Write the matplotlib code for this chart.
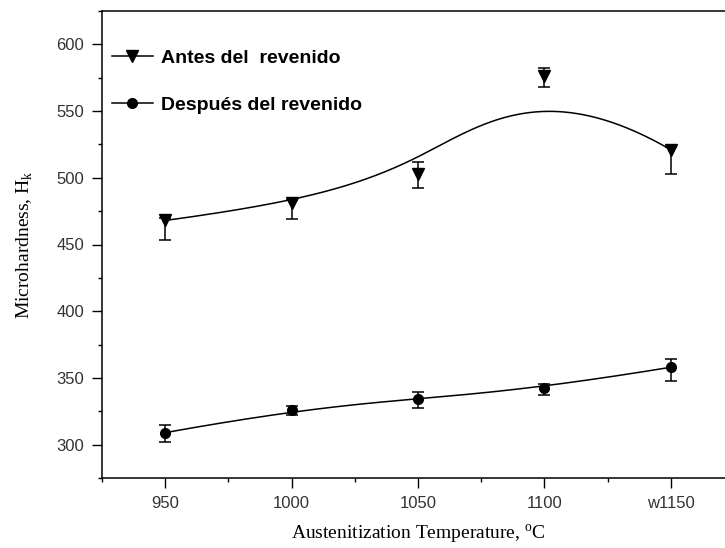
import numpy as np
import matplotlib
matplotlib.use("Agg")
import matplotlib.pyplot as plt
from matplotlib.lines import Line2D

# temperaturas de austenizacion y microdureza
temps = [950, 1000, 1050, 1100, 1150]
tick_labels = ["950", "1000", "1050", "1100", "w1150"]

antes = [468, 481, 503, 576, 521]
antes_err_low = [15, 12, 11, 8, 18]
antes_err_up = [2, 2, 9, 6, 2]

despues = [309, 326, 334.5, 342.5, 358]
despues_err_low = [7, 4, 7, 5, 10.5]
despues_err_up = [6, 3, 5, 3, 6.5]


# curva B-spline (como la de Origin) con los puntos como control
def bspline(px, py, degree=3, n=300):
    pts = np.column_stack([px, py]).astype(float)
    m = len(pts)
    n_inner = m - degree - 1
    knots = np.concatenate([np.zeros(degree + 1),
                            np.arange(1, n_inner + 1) / (n_inner + 1),
                            np.ones(degree + 1)])
    t = np.linspace(0, 1 - 1e-9, n)

    def basis(i, k, t):
        if k == 0:
            return ((knots[i] <= t) & (t < knots[i + 1])).astype(float)
        a = 0.0
        b = 0.0
        if knots[i + k] != knots[i]:
            a = (t - knots[i]) / (knots[i + k] - knots[i]) * basis(i, k - 1, t)
        if knots[i + k + 1] != knots[i + 1]:
            b = (knots[i + k + 1] - t) / (knots[i + k + 1] - knots[i + 1]) * basis(i + 1, k - 1, t)
        return a + b

    curve = sum(basis(i, degree, t)[:, None] * pts[i] for i in range(m))
    return curve[:, 0], curve[:, 1]


plt.rcParams['mathtext.fontset'] = 'custom'
plt.rcParams['mathtext.rm'] = 'Liberation Serif'

fig = plt.figure(figsize=(7.25, 5.48), dpi=100)
ax = fig.add_axes([102 / 725, 1 - 478 / 548, (734 - 102) / 725, (478 - 11) / 548])

for vals, lo, up, mk, ms in [(antes, antes_err_low, antes_err_up, 'v', 9),
                             (despues, despues_err_low, despues_err_up, 'o', 7)]:
    cx, cy = bspline(temps, vals)
    ax.plot(cx, cy, color='black', lw=1.1)
    ax.errorbar(temps, vals, yerr=[lo, up], fmt=mk, color='black', ms=ms,
                elinewidth=1.1, capsize=4, capthick=1.1)

ax.set_xlim(925, 1175)
ax.set_ylim(275, 625)
ax.set_xticks(temps)
ax.set_xticklabels(tick_labels)
ax.set_xticks(np.arange(925, 1176, 25), minor=True)
ax.set_yticks(np.arange(300, 601, 50))
ax.set_yticks(np.arange(275, 626, 25), minor=True)

ax.spines['right'].set_visible(False)
for s in ['left', 'bottom', 'top']:
    ax.spines[s].set_linewidth(1.1)
ax.tick_params(which='major', direction='out', length=7, width=1.0, pad=6,
               labelsize=12, labelcolor='#333333')
ax.tick_params(which='minor', direction='out', length=3, width=1.0)
ax.tick_params(top=False, right=False, which='both')
for lab in ax.get_xticklabels() + ax.get_yticklabels():
    lab.set_family('Liberation Sans')

ax.set_xlabel(r'Austenitization Temperature, $^{\mathrm{o}}$C',
              family='Liberation Serif', fontsize=14, labelpad=8)
ax.set_ylabel(r'Microhardness, H$_{\mathrm{k}}$',
              family='Liberation Serif', fontsize=14, labelpad=15)

handles = [Line2D([], [], color='black', lw=1.1, marker='v', ms=9),
           Line2D([], [], color='black', lw=1.1, marker='o', ms=7)]
ax.legend(handles, ['Antes del  revenido', 'Después del revenido'],
          loc='upper left', bbox_to_anchor=(-0.012, 0.955), frameon=False,
          prop={'family': 'Liberation Sans', 'weight': 'bold', 'size': 14},
          handlelength=2.1, handletextpad=0.4, labelspacing=1.5)

fig.savefig('out.png', dpi=100)
